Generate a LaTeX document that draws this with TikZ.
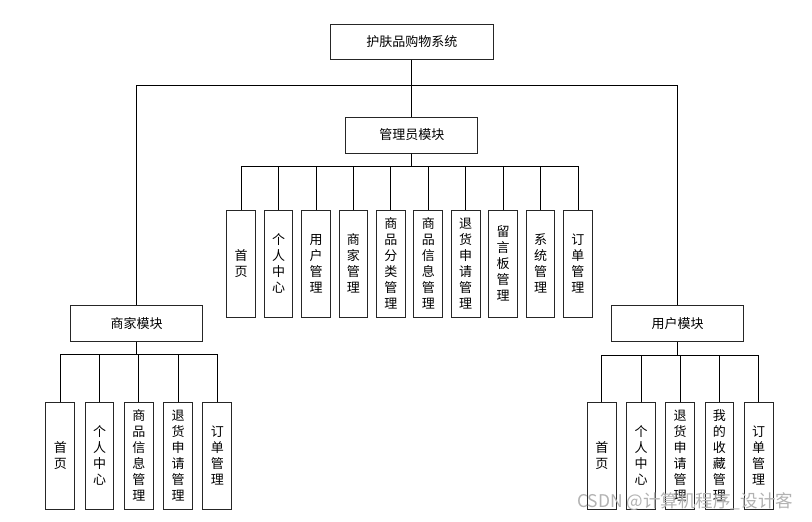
\documentclass[tikz,border=0pt]{standalone}
\usepackage{fontspec}
\newfontfamily\cjk{Noto Sans CJK SC}
\tikzset{
  box/.style={draw=black!85, line width=1pt, fill=white, inner sep=0pt,
    font=\cjk\fontsize{13}{16}\selectfont},
  topbox/.style={box, minimum width=163pt, minimum height=35pt},
  modbox/.style={box, minimum width=132pt, minimum height=36pt},
  leaf/.style={box, minimum width=28.7pt, minimum height=107pt, align=center},
  conn/.style={draw=black, line width=0.9pt},
  wm/.style={text=black!30, font=\cjk\fontsize{17.5}{17.5}\selectfont, inner sep=0pt, anchor=west}
}
\begin{document}
\begin{tikzpicture}[x=1pt,y=-1pt]
\useasboundingbox (0,0) rectangle (812,522);
\fill[white] (0,0) rectangle (812,522);

\node[topbox] (top) at (411.8,41.8) {护肤品购物系统};
\node[modbox] (admin) at (411.8,135) {管理员模块};
\node[modbox] (shop) at (136.5,323.7) {商家模块};
\node[modbox] (user) at (677.5,323.7) {用户模块};

\coordinate (hl) at (136.5,85.3);
\coordinate (hr) at (677.5,85.3);

% admin leaves
\foreach \t [count=\i from 0] in {
  {首\\页},{个\\人\\中\\心},{用\\户\\管\\理},{商\\家\\管\\理},{商\\品\\分\\类\\管\\理},
  {商\\品\\信\\息\\管\\理},{退\\货\\申\\请\\管\\理},{留\\言\\板\\管\\理},{系\\统\\管\\理},{订\\单\\管\\理}}
  \node[leaf] (a\i) at ({241.2+37.42*\i},263.5) {\t};

% shop leaves
\foreach \t [count=\i from 0] in {
  {首\\页},{个\\人\\中\\心},{商\\品\\信\\息\\管\\理},{退\\货\\申\\请\\管\\理},{订\\单\\管\\理}}
  \node[leaf] (s\i) at ({60.3+39.25*\i},455.6) {\t};

% user leaves
\foreach \t [count=\i from 0] in {
  {首\\页},{个\\人\\中\\心},{退\\货\\申\\请\\管\\理},{我\\的\\收\\藏\\管\\理},{订\\单\\管\\理}}
  \node[leaf] (u\i) at ({601.8+39.22*\i},455.6) {\t};

% connectors
\draw[conn] (top) -- (admin);
\draw[conn] (hl) -- (hr);
\draw[conn] (hl) -- (shop.north);
\draw[conn] (hr) -- (user.north);
\foreach \i in {0,...,9}
  \draw[conn] (admin.south) -- ++(0,13) -| (a\i.north);
\foreach \i in {0,...,4}{
  \draw[conn] (shop.south) -- ++(0,12.6) -| (s\i.north);
  \draw[conn] (user.south) -- ++(0,13.3) -| (u\i.north);
}

\node[wm] (wmark) at (577,502) {CSDN @计算机程序\_设计客};
\end{tikzpicture}
\end{document}
